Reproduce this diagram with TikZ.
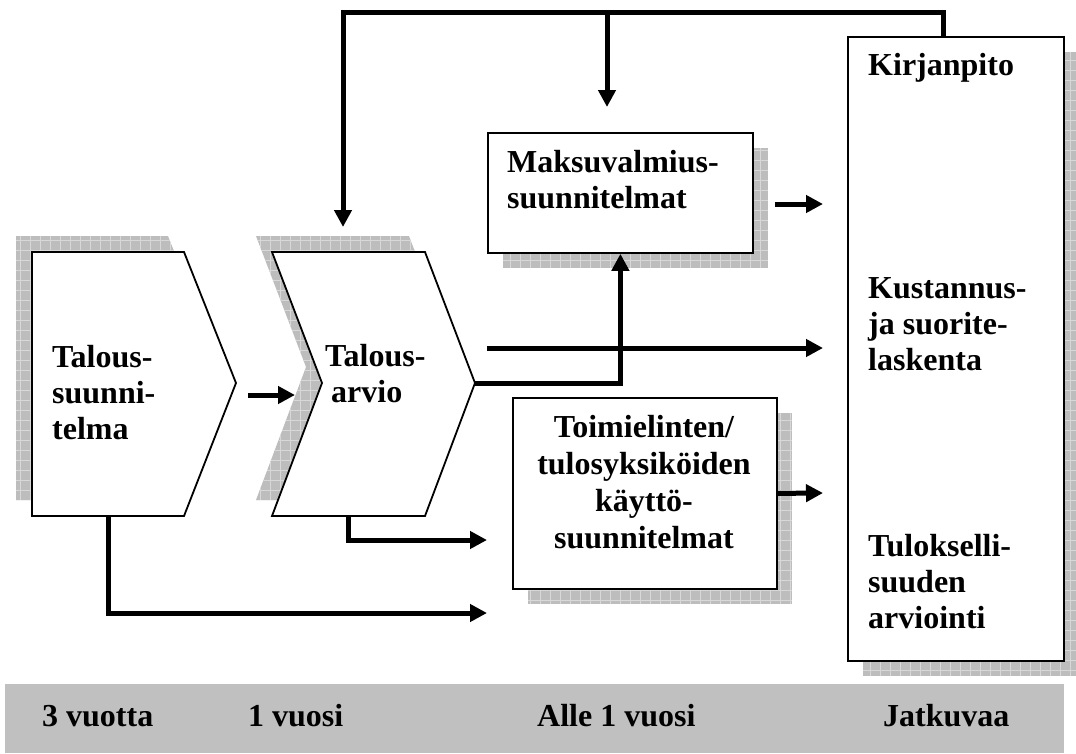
\documentclass[tikz,border=0pt]{standalone}
\usepackage{fontspec}
\setmainfont{Liberation Serif}
\usetikzlibrary{arrows.meta,calc}

\definecolor{shgray}{HTML}{BDBDBD}
\definecolor{gridc}{HTML}{D8D8D8}
\definecolor{bandgray}{HTML}{C0C0C0}

\tikzset{
  shadowfill/.style={fill=shgray,
    path picture={\draw[gridc, line width=0.8pt, step=10pt]
      (path picture bounding box.south west) grid (path picture bounding box.north east);}},
  outline/.style={draw=black, line width=1.8pt, fill=white},
  boxnode/.style={outline, rectangle, inner sep=0pt, anchor=north west},
  conn/.style={line width=5pt, line join=miter, -{Triangle[length=17pt,width=17pt]}},
  % multi-line labels are placed by the baseline of their last line
  lbl/.style={font=\bfseries\fontsize{32}{36}\selectfont, align=left, inner sep=0pt, anchor=base west},
  lblc/.style={font=\bfseries\fontsize{32}{37}\selectfont, align=center, inner sep=0pt, anchor=base},
  bandlbl/.style={font=\bfseries\fontsize{32}{36}\selectfont, inner sep=0pt, anchor=base west},
}

\begin{document}
\begin{tikzpicture}[x=1pt,y=-1pt]
\useasboundingbox (0,0) rectangle (1076,753);

% hatched drop shadows
\path[shadowfill] (16,236) -- (168,236) -- (220,367) -- (168,500) -- (16,500) -- cycle;
\path[shadowfill] (256,236) -- (409,236) -- (459,367) -- (409,500) -- (256,500) -- (306,367) -- cycle;
\path[shadowfill] (503,148) rectangle (768,268);
\path[shadowfill] (528,413) rectangle (792,604);
\path[shadowfill] (863,52) rectangle (1080,676);

% planning stages (chevrons)
\draw[outline] (32,252) -- (184,252) -- (236,383) -- (184,516) -- (32,516) -- cycle;
\draw[outline] (272,252) -- (425,252) -- (475,383) -- (425,516) -- (272,516) -- (322,383) -- cycle;

% plan boxes
\node[boxnode, minimum width=265pt, minimum height=120pt] (mv) at (487,132) {};
\node[boxnode, minimum width=264pt, minimum height=191pt] (tu) at (512,397) {};
\node[boxnode, minimum width=216pt, minimum height=624pt] (kp) at (847,36) {};

% labels
\node[lbl] (tstext) at (52,439) {Talous-\\suunni-\\telma};
\node[lbl] (tatext) at (325,402) {Talous-\\\hspace*{6pt}arvio};
\node[lbl] (mvtext) at (507,208) {Maksuvalmius-\\suunnitelmat};
\node[lblc] (tutext) at (644,548) {Toimielinten/\\tulosyksiköiden\\käyttö-\\suunnitelmat};
\node[lbl] (kptext) at (868,75) {Kirjanpito};
\node[lbl] (kstext) at (868,370) {Kustannus-\\ja suorite-\\laskenta};
\node[lbl] (tltext) at (868,628) {Tulokselli-\\suuden\\arviointi};

% time scale band
\node[fill=bandgray, inner sep=0pt, minimum width=1059pt, minimum height=69pt, anchor=north west] (band) at (5,684) {};
\node[bandlbl] (t1) at (42,726) {3 vuotta};
\node[bandlbl] (t2) at (248,726) {1 vuosi};
\node[bandlbl] (t3) at (537,726) {Alle 1 vuosi};
\node[bandlbl] (t4) at (883,726) {Jatkuvaa};

% connector end points
\coordinate (kptop) at (943,36);
\coordinate (topleft) at (343,12);
\coordinate (tain) at (343,227);
\coordinate (branch) at (607,12);
\coordinate (mvin) at (607,107);
\coordinate (tsout) at (248,395);
\coordinate (taleft) at (295,395);
\coordinate (tatip) at (475,383);
\coordinate (mid) at (487,348);
\coordinate (kpin1) at (823,204);
\coordinate (kpin2) at (823,348);
\coordinate (kpin3) at (823,493);
\coordinate (mvout) at (775,204);
\coordinate (tabot) at (348,516);
\coordinate (tsbot) at (108,516);
\coordinate (tuin1) at (487,540);
\coordinate (tuin2) at (487,613);

% connectors
\draw[conn] (kptop) |- (topleft) -- (tain);
\draw[conn] (branch) -- (mvin);
\draw[conn] (tsout) -- (taleft);
\draw[conn] (tatip) -| (mv.south);
\draw[conn] (mid) -- (kpin2);
\draw[conn] (mvout) -- (kpin1);
\draw[conn] (tu.east) -- (kpin3);
\draw[conn] (tabot) |- (tuin1);
\draw[conn] (tsbot) |- (tuin2);
\end{tikzpicture}
\end{document}
